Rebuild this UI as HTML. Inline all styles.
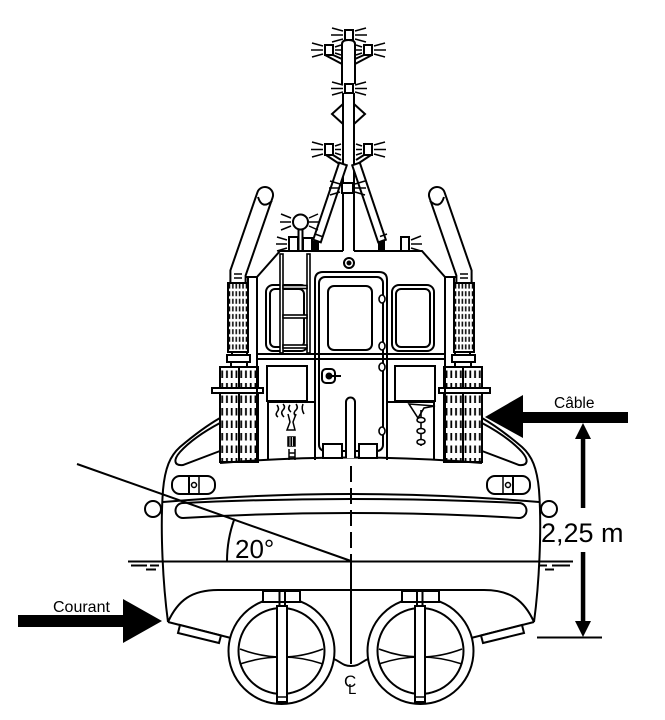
<!DOCTYPE html>
<html><head><meta charset="utf-8"><style>
html,body{margin:0;padding:0;background:#fff;}
svg{display:block}
text{font-family:"Liberation Sans",Arial,sans-serif;fill:#000;stroke:none}
</style></head><body>
<svg width="665" height="720" viewBox="0 0 665 720" xmlns="http://www.w3.org/2000/svg">
<defs>
<pattern id="hm" x="228" y="283" width="3.4" height="7.6" patternUnits="userSpaceOnUse"><rect x="0.7" y="0.6" width="1.5" height="5" fill="#000"/></pattern>
<pattern id="hb" x="220" y="368" width="4.75" height="12.5" patternUnits="userSpaceOnUse"><rect x="1.3" y="2.5" width="1.8" height="7.5" fill="#000"/></pattern>
<g id="half" fill="none" stroke="#000" stroke-width="2">
  <path d="M168,622 C163,585 160,530 163,490 C165,468 170,456 180,447 C193,436 206,426 220,418"/>
  <path d="M220,423 C205,431 190,441 180,452 C173,460 174,466 183,465 L220,451"/>
  <rect x="172" y="476" width="43" height="18" rx="8"/>
  <line x1="189" y1="476" x2="189" y2="494"/>
  <line x1="199" y1="476" x2="199" y2="494" stroke-width="1.5"/>
  <circle cx="194" cy="485" r="2.5" stroke-width="1.5"/>
  <circle cx="153" cy="509" r="8" fill="#fff"/>
  <path d="M168,622 C178,600 192,590 218,590"/>
  <path d="M168,622 L231,638"/>
  <polygon points="180,625 221,635.5 219,643 178,633" fill="#fff"/>
  <circle cx="281.5" cy="651" r="53" fill="#fff"/>
  <circle cx="281.5" cy="651" r="43"/>
  <path d="M240,649 Q282,665 323,649 M240,664 Q282,650 323,664" stroke-width="1.6"/>
  <rect x="263" y="591" width="37" height="11" fill="#fff"/>
  <line x1="279.5" y1="591" x2="279.5" y2="606"/>
  <line x1="285" y1="591" x2="285" y2="606"/>
  <rect x="277" y="606" width="10" height="96" fill="#fff"/>
  <line x1="277" y1="697" x2="287" y2="697" stroke-width="1.5"/>
  <path d="M230.4,283 L230.4,270.4 L257.4,192.4 A8,8 0 0 1 272.6,197.6 L245.6,275.6 L245.6,283" fill="#fff"/>
  <path d="M258,197 Q262,210 272,201"/>
  <path d="M234,274 H242 M234,278 H242" stroke-width="1.5"/>
  <path d="M245.6,277 H257 M248,277 V352"/>
  <rect x="228" y="283" width="20" height="69" fill="#fff"/>
  <rect x="228" y="283" width="20" height="69" fill="url(#hm)"/>
  <rect x="232" y="352" width="15" height="3" fill="#fff"/>
  <rect x="227" y="355" width="23" height="7" fill="#fff"/>
  <rect x="231" y="362" width="16" height="5" fill="#fff"/>
  <rect x="220" y="367" width="38" height="95" fill="#fff"/>
  <rect x="220" y="367" width="38" height="95" fill="url(#hb)"/>
  <line x1="239" y1="367" x2="239" y2="462"/>
  <rect x="212" y="388" width="51" height="5" fill="#fff"/>
  <rect x="267" y="366" width="40" height="35"/>
  <path d="M268,460 V402 H314"/>
</g>
</defs>

<g stroke="#000" fill="none" stroke-width="2">
  <line x1="128" y1="561.5" x2="573" y2="561.5"/>
  <path d="M131,565.5 H147 M150,565.5 H159 M146,569.5 H156" />
  <path d="M540,565.5 H547 M552,565.5 H570 M545,569.5 H554" />
</g>

<use href="#half"/>
<use href="#half" transform="translate(702,0) scale(-1,1)"/>

<g stroke="#000" fill="none" stroke-width="2">
  <path d="M220,463 Q351,452 482,463"/>
  <path d="M163,502 Q351,486 539,502"/>
  <path d="M183,503 Q351,495 519,503 A7.5,7.5 0 0 1 519,518 Q351,508 183,518 A7.5,7.5 0 0 1 183,503 Z"/>
  <line x1="218" y1="590" x2="484" y2="590"/>
  <path d="M334,659 C341,662 343,666 351,666 C359,666 361,662 368,659"/>
  <line x1="351" y1="466" x2="351" y2="561" stroke-dasharray="16 6"/>
  <line x1="351" y1="561" x2="351" y2="664"/>
  <path d="M77,464 L351,561"/>
  <path d="M227,561 A124,124 0 0 1 234.5,518.6"/>

  <path d="M257,461 V277 L280,251 H343 M354,251 H422 L445,277 V461"/>
  <path d="M257,354 H445 M257,359 H445"/>
  <circle cx="349" cy="263" r="5"/>
  <circle cx="349" cy="263" r="1.5" fill="#000"/>
  <rect x="266" y="285" width="42" height="66" rx="7"/>
  <rect x="270" y="289" width="34" height="58" rx="5"/>
  <rect x="392" y="285" width="42" height="66" rx="7"/>
  <rect x="396" y="289" width="34" height="58" rx="5"/>
  <rect x="280" y="254" width="3" height="99" fill="#fff" stroke-width="1.6"/>
  <rect x="307" y="254" width="3" height="99" fill="#fff" stroke-width="1.6"/>
  <rect x="283" y="285.5" width="24" height="3" fill="#fff" stroke-width="1.6"/>
  <rect x="283" y="315" width="24" height="3" fill="#fff" stroke-width="1.6"/>
  <rect x="283" y="345" width="24" height="3" fill="#fff" stroke-width="1.6"/>
  <path d="M315,460 V280 Q315,272 323,272 H379 Q387,272 387,280 V460"/>
  <rect x="319" y="277" width="64" height="174" rx="6"/>
  <rect x="328" y="286" width="44" height="64" rx="6"/>
  <rect x="322" y="369" width="13" height="14" rx="4"/>
  <circle cx="329" cy="376" r="2.5" fill="#000"/>
  <line x1="331" y1="376" x2="341" y2="376"/>
  <g fill="#fff" stroke-width="1.6">
    <ellipse cx="382" cy="299" rx="3" ry="4"/>
    <ellipse cx="382" cy="346" rx="3" ry="4"/>
    <ellipse cx="382" cy="367" rx="3" ry="4"/>
    <ellipse cx="382" cy="431" rx="3" ry="4"/>
  </g>
  <path d="M346,458 V402 A4.5,4.5 0 0 1 355,402 V458" fill="#fff"/>
  <rect x="323" y="444" width="19" height="14" fill="#fff"/>
  <rect x="359" y="444" width="18" height="14" fill="#fff"/>
  <g stroke-width="1.5">
    <path d="M277,405 q3,4 0,7 q-2,3 1,5"/>
    <path d="M283,404 q3,3 0,6 q-3,3 1,7"/>
    <path d="M290,405 q-3,4 1,7"/>
    <path d="M296,404 q3,4 -1,7 q-2,3 1,5"/>
    <path d="M303,404 q-2,5 1,10"/>
    <path d="M288,414 L290,422 L287,430 L295,430 L293,422 L296,414"/>
    <rect x="288" y="437" width="7" height="9" fill="#000"/>
    <path d="M290,437 V446 M292.5,437 V446" stroke="#fff" stroke-width="0.8"/>
    <path d="M289,449 V460 M295,449 V460 M289,453 H295 M289,457 H295"/>
  </g>
  <g stroke-width="1.6">
    <path d="M409,404 L435,406 L424,408 L418,418 Z"/>
    <line x1="421" y1="410" x2="421" y2="446"/>
    <ellipse cx="421" cy="420" rx="4" ry="2.5" fill="#fff"/>
    <ellipse cx="421" cy="431" rx="4" ry="2.5" fill="#fff"/>
    <ellipse cx="421" cy="442" rx="4" ry="2.5" fill="#fff"/>
  </g>

  <path d="M342,84 V44 Q342,40 348.5,40 Q355,40 355,44 V84"/>
  <line x1="343" y1="93" x2="343" y2="251"/>
  <line x1="354" y1="93" x2="354" y2="251"/>
  <rect x="345" y="30" width="8" height="10" fill="#fff"/>
  <rect x="345" y="84" width="8" height="9" fill="#fff"/>
  <path d="M343,104 L332,114 L343,124 M354,104 L365,114 L354,124"/>
  <rect x="325" y="45" width="8" height="10" fill="#fff"/>
  <rect x="364" y="45" width="8" height="10" fill="#fff"/>
  <path d="M325,55 L342,64 M333,55 L342,59 M372,55 L355,64 M364,55 L355,59"/>
  <rect x="325" y="144" width="8" height="11" fill="#fff"/>
  <rect x="364" y="144" width="8" height="11" fill="#fff"/>
  <path d="M326,155 L341,165 M333,155 L341,160 M371,155 L356,165 M364,155 L356,160"/>
  <polygon points="339.2,162.7 346.8,165.3 320.8,242.3 313.2,239.7" fill="#fff"/>
  <polygon points="352.2,165.3 359.8,162.7 385.8,239.7 378.2,242.3" fill="#fff"/>
  <path d="M315,234 L322,236.5 M380,236.5 L387,234" stroke-width="1.5"/>
  <rect x="313" y="242" width="5" height="9" fill="#000"/>
  <rect x="379" y="242" width="5" height="9" fill="#000"/>
  <rect x="342" y="183" width="11" height="10" fill="#fff"/>
  <g stroke-width="1.5">
    <path d="M343,31 L332,28 M343,35 H331 M343,39 L332,42 M355,31 L366,28 M355,35 H367 M355,39 L366,42"/>
    <path d="M323,46 L312,43 M323,50 H311 M323,54 L312,57 M335,47 L341,45 M335,50 H341 M335,53 L341,55"/>
    <path d="M374,46 L385,43 M374,50 H386 M374,54 L385,57 M362,47 L356,45 M362,50 H356 M362,53 L356,55"/>
    <path d="M343,85 L332,82 M343,88.5 H331 M343,92 L332,95 M355,85 L366,82 M355,88.5 H367 M355,92 L366,95"/>
    <path d="M323,145 L312,142 M323,149.5 H311 M323,154 L312,157 M335,146 L341,144 M335,149.5 H341 M335,153 L341,155"/>
    <path d="M374,145 L385,142 M374,149.5 H386 M374,154 L385,157 M362,146 L356,144 M362,149.5 H356 M362,153 L356,155"/>
    <path d="M340,184 L330,181 M340,188 H329 M340,192 L330,195 M355,184 L365,181 M355,188 H366 M355,192 L365,195"/>
    <path d="M291,218 L281,214 M291,222 H280 M291,226 L281,230 M309,218 L318,214 M309,222 H319 M309,226 L318,230"/>
    <path d="M287,240 L277,237 M287,244 H276 M287,248 L277,251"/>
    <path d="M411,240 L421,236 M411,244 H422 M411,248 L421,251"/>
  </g>
  <circle cx="300.5" cy="222" r="7.5" fill="#fff"/>
  <rect x="298.5" y="229.5" width="4" height="21.5" fill="#fff"/>
  <rect x="289" y="237" width="9" height="14" fill="#fff"/>
  <rect x="303" y="238" width="9" height="13" fill="#fff"/>
  <rect x="401" y="237" width="8" height="14" fill="#fff"/>
</g>

<g fill="#000" stroke="none">
  <polygon points="485,417 523,395 523,412 628,412 628,423 523,423 523,438"/>
  <polygon points="18,615 123,615 123,599 162,621 123,643 123,627 18,627"/>
  <rect x="580.8" y="437" width="4.5" height="71"/>
  <rect x="580.8" y="552" width="4.5" height="71"/>
  <polygon points="583,423 575,439 591,439"/>
  <polygon points="583,637 575,621 591,621"/>
  <rect x="537" y="636.5" width="65" height="2"/>
</g>

<text x="554" y="408" font-size="15.5">Câble</text>
<text x="541" y="542" font-size="27">2,25 m</text>
<text x="235" y="558" font-size="26">20°</text>
<text x="53" y="612" font-size="16">Courant</text>
<text x="344" y="687" font-size="17">C</text>
<text x="348" y="694" font-size="15">L</text>
</svg>
</body></html>
